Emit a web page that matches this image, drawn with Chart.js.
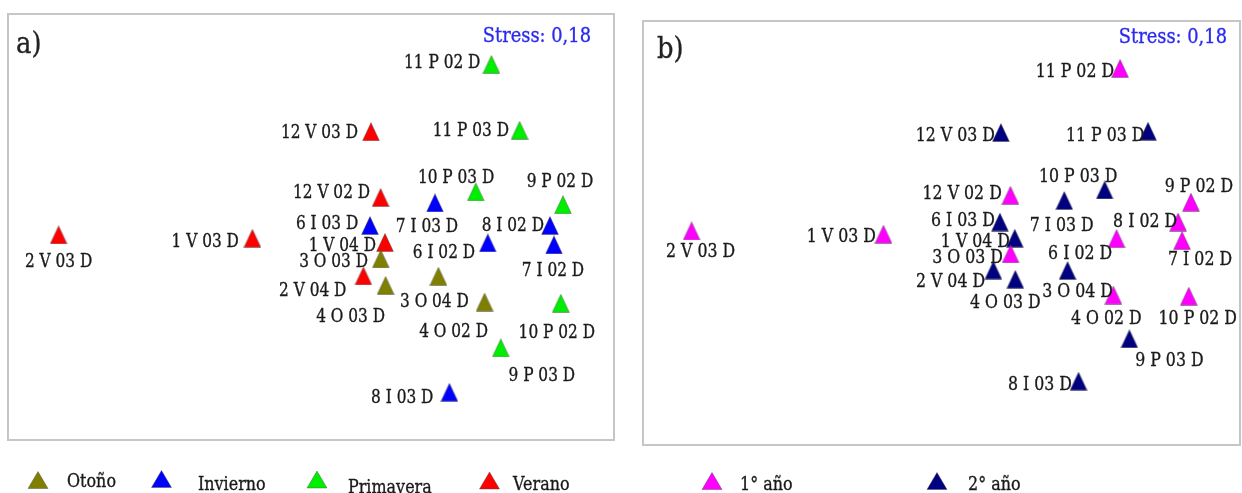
<!DOCTYPE html>
<html><head><meta charset="utf-8">
<script src="https://cdn.jsdelivr.net/npm/chart.js@4.4.1/dist/chart.umd.min.js"></script>
<style>
html,body{margin:0;padding:0;background:#fff;width:1242px;height:493px;overflow:hidden}
.panel{position:absolute;top:0;width:620px;height:493px}
#wa{left:0}
#wb{left:622px}
</style></head><body>
<div class="panel" id="wa"><canvas id="ca" width="620" height="493"></canvas></div>
<div class="panel" id="wb"><canvas id="cb" width="620" height="493"></canvas></div>
<script>
// ---- data (NMDS ordination) ----
const sampleNames = ['2 V 03 D','1 V 03 D','12 V 03 D','12 V 02 D','1 V 04 D','2 V 04 D',
  '11 P 02 D','11 P 03 D','10 P 03 D','9 P 02 D','10 P 02 D','9 P 03 D',
  '6 I 03 D','7 I 03 D','8 I 02 D','6 I 02 D','7 I 02 D','8 I 03 D',
  '3 O 03 D','4 O 03 D','3 O 04 D','4 O 02 D'];
const nmds1 = [-1.257,-0.288,0.305,0.353,0.375,0.267,
  0.907,1.048,0.829,1.265,1.254,0.954,
  0.300,0.625,1.200,0.889,1.220,0.697,
  0.354,0.378,0.642,0.873];
const nmds2 = [0.063,0.046,0.579,0.250,0.025,-0.142,
  0.915,0.586,0.278,0.214,-0.279,-0.502,
  0.110,0.223,0.110,0.023,0.013,-0.724,
  -0.057,-0.190,-0.144,-0.273];
const seasonOf = ['V','V','V','V','V','V','P','P','P','P','P','P',
  'I','I','I','I','I','I','O','O','O','O'];
const yearOf = [1,1,2,1,2,2, 1,2,2,1,1,2, 2,2,1,1,1,2, 1,2,2,1];
const seasonCodes = ['O','I','P','V'];
const seasonCategories = ['Otoño','Invierno','Primavera','Verano'];
const yearCodes = [1,2];
const yearCategories = ['1° año','2° año'];
const stressText = 'Stress: 0,18';

// ---- styles / layout ----
const seasonColors = {O:'#7f7f00', I:'#0000ff', P:'#00ee00', V:'#ff0000'};
const yearColors = {1:'#ff00ff', 2:'#000080'};
const FONT = '"DejaVu Serif", serif';
const SX = 0.83;

// label placement: [align, dx, dy] relative to marker centre (cap centre of text)
const layoutA = {
 '2 V 03 D':['c',0,25.5],'1 V 03 D':['r',-13.5,2],'12 V 03 D':['r',-13,-0.5],'12 V 02 D':['r',-10.5,-6],
 '1 V 04 D':['r',-9,2],'2 V 04 D':['r',-17,13.7],'11 P 02 D':['r',-11,-3],'11 P 03 D':['r',-10.6,-1],
 '10 P 03 D':['c',-19.7,-15.5],'9 P 02 D':['c',-3,-24.7],'10 P 02 D':['c',-4,27.7],'9 P 03 D':['c',41,26.7],
 '6 I 03 D':['r',-11.7,-3],'7 I 03 D':['c',-8,22.5],'8 I 02 D':['r',-6,-1.5],'6 I 02 D':['r',-12.7,8.5],
 '7 I 02 D':['c',-1,24],'8 I 03 D':['r',-16,4],'3 O 03 D':['r',-12.8,1],'4 O 03 D':['c',-35,29.5],
 '3 O 04 D':['c',-4,24],'4 O 02 D':['c',-31,28]
};
const layoutB = {
 '2 V 03 D':['c',9,19],'1 V 03 D':['r',-7.6,1.3],'12 V 03 D':['r',-6,2],'12 V 02 D':['r',-8.6,-3.3],
 '1 V 04 D':['r',-4.75,1.8],'2 V 04 D':['r',-8.3,10],'11 P 02 D':['r',-6,1.6],'11 P 03 D':['r',-3.6,3.3],
 '10 P 03 D':['c',-26.5,-15],'9 P 02 D':['c',8,-17],'10 P 02 D':['c',9,21],'9 P 03 D':['c',40,20.5],
 '6 I 03 D':['r',-5,-3],'7 I 03 D':['c',-2.5,23.5],'8 I 02 D':['r',-1,-2],'6 I 02 D':['r',-4.4,13],
 '7 I 02 D':['c',18,18],'8 I 03 D':['r',-6.5,1.7],'3 O 03 D':['r',-7.6,2.2],'4 O 03 D':['c',-10,22],
 '3 O 04 D':['c',10,20],'4 O 02 D':['c',-7,22]
};

function triImage(color){
  const c = document.createElement('canvas');
  c.width = 18; c.height = 19;
  const g = c.getContext('2d');
  g.beginPath();
  g.moveTo(9,0.6); g.lineTo(17.4,18.4); g.lineTo(0.6,18.4); g.closePath();
  g.fillStyle = color; g.fill();
  g.lineWidth = 0.8; g.strokeStyle = 'rgba(70,70,70,0.55)'; g.stroke();
  return c;
}

function drawText(ctx, txt, x, y, align, size, color, sx){
  ctx.save();
  ctx.font = size + 'px ' + FONT;
  ctx.fillStyle = color;
  ctx.strokeStyle = color;
  ctx.lineWidth = 0.35;
  ctx.textBaseline = 'alphabetic';
  ctx.textAlign = align;
  ctx.translate(x, y);
  ctx.scale(sx || SX, 1);
  ctx.fillText(txt, 0, 0);
  ctx.strokeText(txt, 0, 0);
  ctx.restore();
}

function legendTri(ctx, cx, cy, color){
  ctx.save();
  ctx.beginPath();
  ctx.moveTo(cx, cy-8.5); ctx.lineTo(cx+10, cy+8.5); ctx.lineTo(cx-10, cy+8.5); ctx.closePath();
  ctx.fillStyle = color; ctx.fill();
  ctx.lineWidth = 0.8; ctx.strokeStyle = 'rgba(70,70,70,0.5)'; ctx.stroke();
  ctx.restore();
}

function makePlugin(cfg){
  return {
    id: 'decor',
    afterDatasetsDraw(chart){
      const ctx = chart.ctx;
      const a = chart.chartArea;
      ctx.save();
      ctx.strokeStyle = '#c6c6c6'; ctx.lineWidth = 2;
      ctx.strokeRect(a.left, a.top, a.right - a.left, a.bottom - a.top);
      ctx.restore();
      chart.data.datasets.forEach((ds, di) => {
        const meta = chart.getDatasetMeta(di);
        meta.data.forEach((el, i) => {
          const name = ds.data[i].name;
          const L = cfg.layout[name];
          const base = el.y + L[2] + 0.729 * cfg.labelSize / 2;
          drawText(ctx, name, el.x + L[1], base, L[0] === 'r' ? 'right' : 'center', cfg.labelSize, '#1a1a1a');
        });
      });
      drawText(ctx, cfg.tag, cfg.tagX, cfg.tagY, 'left', 30, '#222', 0.86);
      drawText(ctx, stressText, cfg.stressX, cfg.stressY, 'right', 21, '#2a2af0', 0.85);
      cfg.legend.forEach(it => {
        legendTri(ctx, it.cx, it.cy, it.color);
        drawText(ctx, it.text, it.tx, it.ty, 'left', 19, '#1a1a1a', 0.84);
      });
    }
  };
}

function pts(filterFn){
  const out = [];
  for (let i = 0; i < sampleNames.length; i++) if (filterFn(i)) out.push({x: nmds1[i], y: nmds2[i], name: sampleNames[i]});
  return out;
}

function build(canvasId, datasets, padding, xr, yr, cfg){
  return new Chart(document.getElementById(canvasId), {
    type: 'scatter',
    data: { datasets },
    options: {
      responsive: false, animation: false, devicePixelRatio: 1,
      layout: { padding, autoPadding: false },
      scales: {
        x: { type: 'linear', display: false, min: xr[0], max: xr[1] },
        y: { type: 'linear', display: false, min: yr[0], max: yr[1] }
      },
      plugins: { legend: { display: false }, tooltip: { enabled: false } }
    },
    plugins: [makePlugin(cfg)]
  });
}

// panel a: seasons
const dsA = seasonCodes.map((s, k) => ({
  label: seasonCategories[k],
  data: pts(i => seasonOf[i] === s),
  backgroundColor: seasonColors[s],
  pointStyle: triImage(seasonColors[s]),
  pointRadius: 9
}));
build('ca', dsA, {left: 8, top: 14, right: 6, bottom: 53}, [-1.51, 1.52], [-0.9625, 1.1675], {
  layout: layoutA, labelSize: 18.5, tag: 'a)', tagX: 16, tagY: 53, stressX: 591, stressY: 42,
  legend: [
    {text: seasonCategories[0], color: seasonColors.O, cx: 38, cy: 480, tx: 67, ty: 487},
    {text: seasonCategories[1], color: seasonColors.I, cx: 161.5, cy: 479, tx: 198, ty: 490},
    {text: seasonCategories[2], color: seasonColors.P, cx: 317, cy: 479.5, tx: 348, ty: 493},
    {text: seasonCategories[3], color: seasonColors.V, cx: 489.5, cy: 480.5, tx: 513, ty: 490}
  ]
});

// panel b: years
const dsB = yearCodes.map((y, k) => ({
  label: yearCategories[k],
  data: pts(i => yearOf[i] === y),
  backgroundColor: yearColors[y],
  pointStyle: triImage(yearColors[y]),
  pointRadius: 9
}));
build('cb', dsB, {left: 21, top: 21, right: 2, bottom: 48}, [-1.5025, 1.5126], [-1.0587, 1.1635], {
  layout: layoutB, labelSize: 19, tag: 'b)', tagX: 35, tagY: 58, stressX: 605, stressY: 43,
  legend: [
    {text: yearCategories[0], color: yearColors[1], cx: 90, cy: 481, tx: 118, ty: 490},
    {text: yearCategories[1], color: yearColors[2], cx: 315, cy: 481, tx: 346, ty: 490}
  ]
});
</script>
</body></html>
